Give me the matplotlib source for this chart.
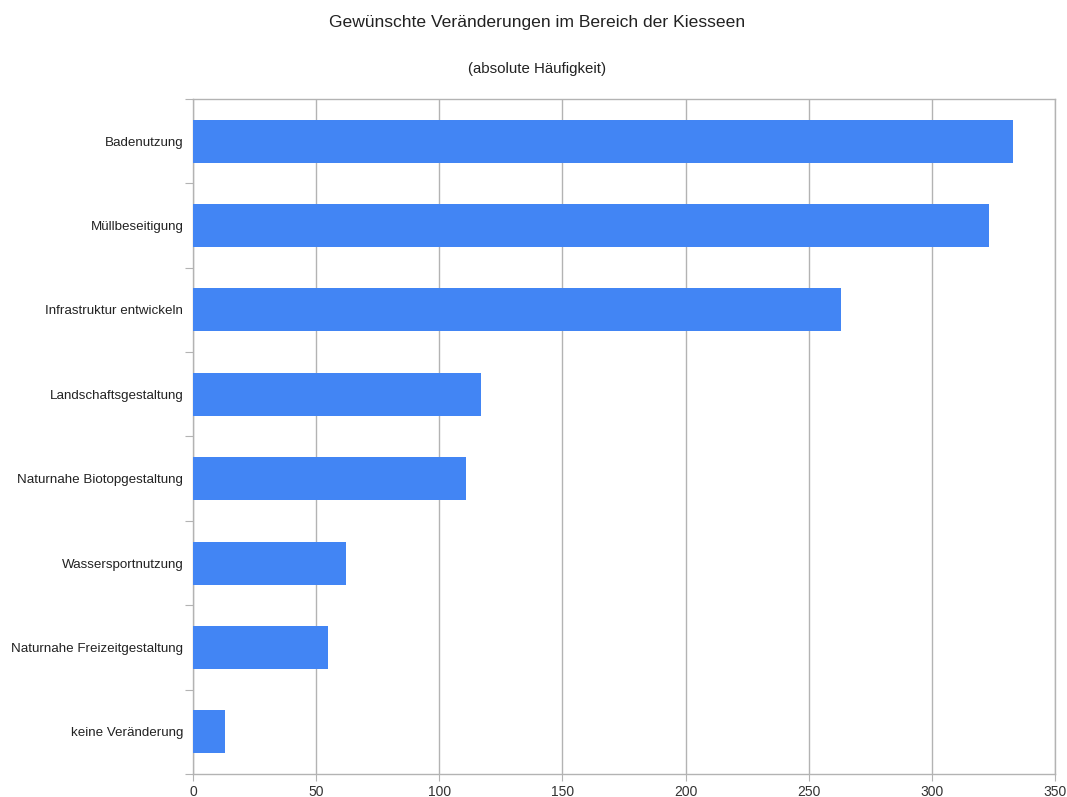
import numpy as np
import matplotlib.pyplot as plt

plt.rcParams['font.family'] = ['Liberation Sans', 'DejaVu Sans']

# Daten (von oben nach unten)
kategorien = ["Badenutzung", "Müllbeseitigung", "Infrastruktur entwickeln",
              "Landschaftsgestaltung", "Naturnahe Biotopgestaltung",
              "Wassersportnutzung", "Naturnahe Freizeitgestaltung",
              "keine Veränderung"]
haeufigkeit = [333, 323, 263, 117, 111, 62, 55, 13]
x_ticks = [0, 50, 100, 150, 200, 250, 300, 350]

BAR_COLOR = "#4285f4"
GRID_COLOR = "#b3b3b3"

fig = plt.figure(figsize=(10.67, 7.97), dpi=100)
ax = fig.add_axes([0.1809, 0.0289, 0.8079, 0.8469])

n = len(kategorien)
pos = np.arange(n)[::-1]  # erste Kategorie oben
ax.barh(pos, haeufigkeit, height=0.51, color=BAR_COLOR, zorder=3)

ax.set_xlim(0, 350)
ax.set_ylim(-0.5, n - 0.5)
ax.set_xticks(x_ticks)
ax.xaxis.grid(True, color=GRID_COLOR, linewidth=1, zorder=0)

# Kategorie-Trennstriche als Major-Ticks, Beschriftungen als Minor-Ticks
ax.set_yticks(np.arange(n + 1) - 0.5)
ax.set_yticklabels([])
ax.set_yticks(pos, minor=True)
ax.set_yticklabels(kategorien, minor=True)
ax.tick_params(axis='y', which='minor', length=0, pad=7, labelsize=9.6, labelcolor="#222222")
ax.tick_params(axis='y', which='major', length=6, color=GRID_COLOR)
ax.tick_params(axis='x', length=5, color=GRID_COLOR, labelsize=10, labelcolor="#333333", pad=3)

for s in ax.spines.values():
    s.set_color(GRID_COLOR)
    s.set_linewidth(1)

fig.text(0.503, 0.972, "Gewünschte Veränderungen im Bereich der Kiesseen",
         ha='center', va='center', fontsize=12.6, color="#222222")
fig.text(0.503, 0.913, "(absolute Häufigkeit)",
         ha='center', va='center', fontsize=10.8, color="#222222")

fig.savefig("out.png", dpi=100)
